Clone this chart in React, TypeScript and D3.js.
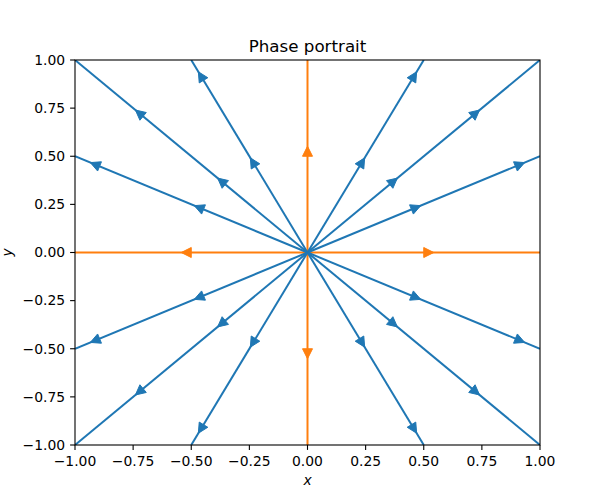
import React from "react";
import * as d3 from "d3";

// Ray endpoints (trajectories leave the origin along these directions)
const blueRays: [number, number][] = [
  [1, 1], [1, 0.5], [0.5, 1],
  [-1, 1], [-1, 0.5], [-0.5, 1],
  [-1, -1], [-1, -0.5], [-0.5, -1],
  [1, -1], [1, -0.5], [0.5, -1],
];
const orangeRays: [number, number][] = [
  [1, 0], [-1, 0], [0, 1], [0, -1],
];
// Arrow positions: distance from origin along each ray (data units)
const blueArrowDist = [0.5, 1.0];
const orangeArrowDist = [0.5];

const xTicks = [-1, -0.75, -0.5, -0.25, 0, 0.25, 0.5, 0.75, 1];
const yTicks = [-1, -0.75, -0.5, -0.25, 0, 0.25, 0.5, 0.75, 1];

const BLUE = "#1f77b4";
const ORANGE = "#ff7f0e";

const W = 600, H = 500;
const L = 75, R = 540, T = 60, B = 445;

export default function App() {
  const x = d3.scaleLinear().domain([-1, 1]).range([L, R]);
  const y = d3.scaleLinear().domain([-1, 1]).range([B, T]);
  const fmt = d3.format(".2f");
  const line = d3.line<[number, number]>().x(d => x(d[0])).y(d => y(d[1]));

  const arrow = (ray: [number, number], dist: number) => {
    const len = Math.hypot(ray[0], ray[1]);
    const ux = ray[0] / len, uy = ray[1] / len;
    const px = x(ux * dist), py = y(uy * dist);
    let dx = x(ray[0]) - x(0), dy = y(ray[1]) - y(0);
    const pl = Math.hypot(dx, dy);
    dx /= pl; dy /= pl;
    const hl = 10, hw = 5;
    const tip = [px + dx * hl, py + dy * hl];
    const a = [px - dy * hw, py + dx * hw];
    const b = [px + dy * hw, py - dx * hw];
    return `M${tip[0]},${tip[1]}L${a[0]},${a[1]}L${b[0]},${b[1]}Z`;
  };

  const renderSeries = (rays: [number, number][], dists: number[], color: string, key: string) => (
    <g key={key}>
      {rays.map((r, i) => (
        <path key={"l" + i} d={line([[0, 0], r]) || ""} fill="none" stroke={color} strokeWidth={2} />
      ))}
      {rays.map((r, i) =>
        dists.map((d, j) => (
          <path key={"a" + i + "-" + j} d={arrow(r, d)} fill={color} stroke={color} strokeWidth={1} />
        ))
      )}
    </g>
  );

  return (
    <svg width={W} height={H} style={{ position: "absolute", left: 0, top: 0, background: "#fff" }}
      fontFamily="DejaVu Sans">
      <rect x={0} y={0} width={W} height={H} fill="#fff" />
      <defs>
        <clipPath id="ax">
          <rect x={L} y={T} width={R - L} height={B - T} />
        </clipPath>
      </defs>
      <g clipPath="url(#ax)">
        {renderSeries(orangeRays, orangeArrowDist, ORANGE, "o")}
        {renderSeries(blueRays, blueArrowDist, BLUE, "b")}
      </g>
      <rect x={L} y={T} width={R - L} height={B - T} fill="none" stroke="#000" strokeWidth={1.1} />
      {xTicks.map(t => (
        <g key={"x" + t}>
          <line x1={x(t)} x2={x(t)} y1={B} y2={B + 4.9} stroke="#000" strokeWidth={1.1} />
          <text x={x(t)} y={B + 21} fontSize={13.9} textAnchor="middle">{fmt(t)}</text>
        </g>
      ))}
      {yTicks.map(t => (
        <g key={"y" + t}>
          <line x1={L - 4.9} x2={L} y1={y(t)} y2={y(t)} stroke="#000" strokeWidth={1.1} />
          <text x={L - 9.8} y={y(t)} dy="0.35em" fontSize={13.9} textAnchor="end">{fmt(t)}</text>
        </g>
      ))}
      <text x={(L + R) / 2} y={T - 8.5} fontSize={16.7} textAnchor="middle">Phase portrait</text>
      <text x={(L + R) / 2} y={485} fontSize={13.9} fontStyle="italic" textAnchor="middle">x</text>
      <text transform={`translate(12,${(T + B) / 2}) rotate(-90)`} fontSize={13.9} fontStyle="italic" textAnchor="middle">y</text>
    </svg>
  );
}
